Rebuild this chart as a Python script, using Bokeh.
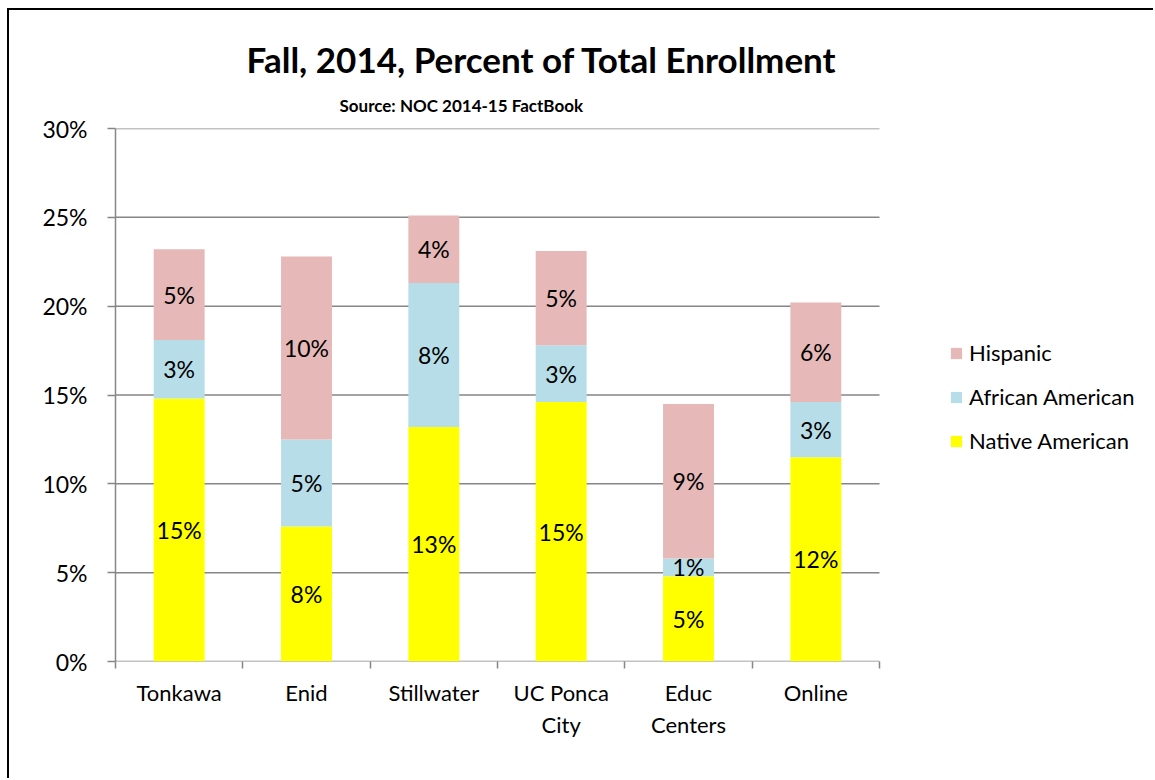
import numpy as np
from bokeh.plotting import figure
from bokeh.models import (Range1d, FixedTicker, PrintfTickFormatter, Title, Legend,
                          LegendItem, ColumnDataSource)
from bokeh.core.properties import value
from bokeh.embed import file_html
from bokeh.resources import INLINE

categories = ["Tonkawa", "Enid", "Stillwater", "UC Ponca\nCity", "Educ\nCenters", "Online"]
native_american = [14.8, 7.6, 13.2, 14.6, 4.8, 11.5]
african_american = [3.3, 4.9, 8.1, 3.2, 1.0, 3.1]
hispanic = [5.1, 10.3, 3.8, 5.3, 8.7, 5.6]
series_names = ["Native American", "African American", "Hispanic"]
series_colors = ["#FFFF00", "#B7DEE8", "#E6B9B8"]
y_ticks = [0, 5, 10, 15, 20, 25, 30]

FONT = "Lato"
GRAY = "#868686"

n = len(categories)
xpos = list(np.arange(n) + 0.5)
data = {"x": xpos, "Native American": native_american,
        "African American": african_american, "Hispanic": hispanic}
source = ColumnDataSource(data)

# layout: the plotting frame extends to the right edge so the legend can live in it;
# the category area covers the first 764 px of the frame.
W, H = 1146, 770
LEFT, TOP, BOTTOM = 106, 118, 119
frame_w = W - LEFT
cat_w = 764
x_end = n * frame_w / cat_w

p = figure(width=W, height=H, output_backend="svg", toolbar_location=None,
           x_range=Range1d(0, x_end), y_range=Range1d(0, 30),
           min_border_left=LEFT, min_border_right=0, min_border_top=TOP,
           min_border_bottom=BOTTOM, title=None)
p.styles = {"margin-left": "7px", "margin-top": "8px",
            "border-left": "2px solid black", "border-top": "2px solid black"}
p.outline_line_color = None
p.background_fill_color = "white"
p.border_fill_color = "white"

# horizontal gridlines across the category area only
p.segment(x0=[0] * len(y_ticks), x1=[n] * len(y_ticks), y0=y_ticks, y1=y_ticks,
          line_color=GRAY, line_width=1.5)

renderers = p.vbar_stack(series_names, x="x", width=0.4, color=series_colors,
                         line_color=None, source=source)

# data labels
series_vals = [native_american, african_american, hispanic]
bottom = np.zeros(n)
for vals in series_vals:
    v = np.array(vals, dtype=float)
    mids = bottom + v / 2
    labels = [f"{int(x + 0.5)}%" for x in v]
    p.text(x=xpos, y=list(mids), text=labels, text_align="center",
           text_baseline="middle", text_font=value(FONT), text_font_size="23px",
           text_color="black")
    bottom = bottom + v

# axes
xa = p.xaxis[0]
xa.ticker = FixedTicker(ticks=xpos, minor_ticks=list(range(n + 1)))
xa.major_label_overrides = {float(x): c for x, c in zip(xpos, categories)}
xa.major_tick_out = 0
xa.major_tick_in = 0
xa.minor_tick_out = 7
xa.minor_tick_in = 0
xa.minor_tick_line_color = GRAY
xa.minor_tick_line_width = 1.5
xa.axis_line_color = None
xa.major_label_text_font = FONT
xa.major_label_text_font_size = "22px"
xa.major_label_text_color = "black"
xa.major_label_standoff = 10

ya = p.yaxis[0]
ya.ticker = FixedTicker(ticks=y_ticks, minor_ticks=[])
ya.formatter = PrintfTickFormatter(format="%d%%")
ya.major_tick_out = 8
ya.major_tick_in = 0
ya.major_tick_line_color = GRAY
ya.major_tick_line_width = 1.5
ya.axis_line_color = GRAY
ya.axis_line_width = 1.5
ya.major_label_text_font = FONT
ya.major_label_text_font_size = "23px"
ya.major_label_text_color = "black"
ya.major_label_standoff = 20

p.xgrid.grid_line_color = None
p.ygrid.grid_line_color = None

# titles
p.add_layout(Title(text="Source: NOC 2014-15 FactBook", align="left", offset=224,
                   text_font=FONT, text_font_size="17px", text_font_style="bold",
                   text_color="black", standoff=26), "above")
p.add_layout(Title(text="Fall, 2014, Percent of Total Enrollment", align="left",
                   offset=131, text_font=FONT, text_font_size="35px",
                   text_font_style="bold", text_color="black", standoff=0), "above")

# legend
items = [LegendItem(label=name, renderers=[r]) for name, r in zip(series_names, renderers)]
legend = Legend(items=list(reversed(items)), location=(834, 207), margin=0,
                label_text_font=FONT, label_text_font_size="22px",
                label_text_color="black",
                glyph_width=14, glyph_height=14, label_height=20,
                spacing=17, padding=10, border_line_color=None,
                background_fill_alpha=0, label_standoff=6)
p.add_layout(legend, "center")

open("out.html", "w").write(file_html(p, INLINE))
